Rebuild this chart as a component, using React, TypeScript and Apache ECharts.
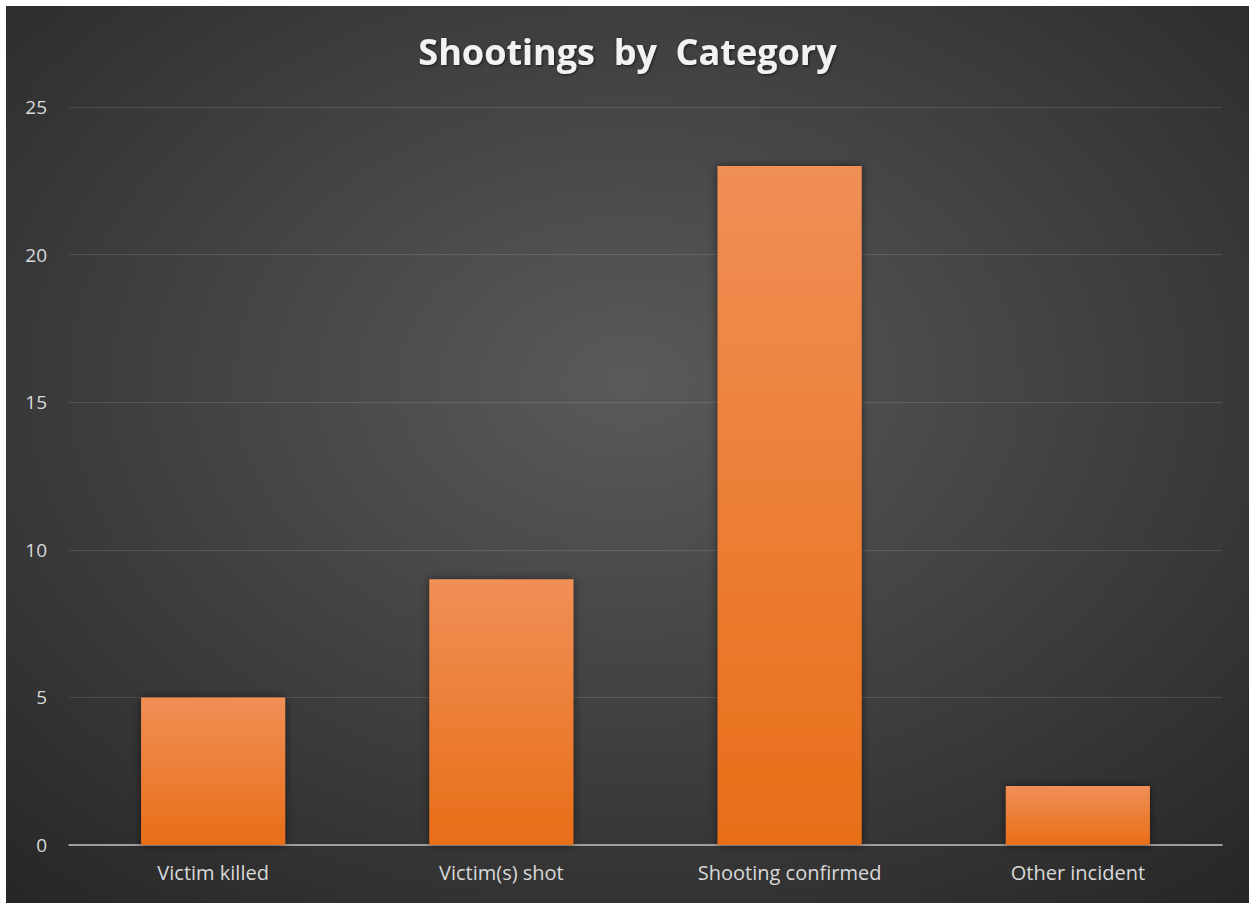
import React, { useEffect, useRef } from "react";
import * as echarts from "echarts";

const categories = ["Victim killed", "Victim(s) shot", "Shooting confirmed", "Other incident"];
const values = [5, 9, 23, 2];
const yTicks = { min: 0, max: 25, interval: 5 };
const titleText = "Shootings  by  Category";

export default function App() {
  const ref = useRef<HTMLDivElement>(null);
  useEffect(() => {
    if (!ref.current) return;
    const chart = echarts.init(ref.current, undefined, { renderer: "svg" });
    chart.setOption({
      animation: false,
      backgroundColor: {
        type: "radial",
        x: 0.5,
        y: 0.42,
        r: 0.78,
        colorStops: [
          { offset: 0, color: "#5a5a5a" },
          { offset: 1, color: "#252525" },
        ],
      },
      title: {
        text: titleText,
        left: "center",
        top: 22,
        textStyle: {
          color: "#f2f2f2",
          fontFamily: "Open Sans",
          fontWeight: "bold",
          fontSize: 36,
          textShadowColor: "rgba(0,0,0,0.6)",
          textShadowBlur: 3,
          textShadowOffsetX: 1,
          textShadowOffsetY: 1,
        },
      },
      grid: { left: 63, right: 27, top: 101, bottom: 58 },
      xAxis: {
        type: "category",
        data: categories,
        axisLine: { lineStyle: { color: "#bfbfbf", width: 1.5 } },
        axisTick: { show: false },
        axisLabel: {
          color: "#d9d9d9",
          fontSize: 20,
          fontFamily: "Open Sans",
          margin: 17,
        },
      },
      yAxis: {
        type: "value",
        min: yTicks.min,
        max: yTicks.max,
        interval: yTicks.interval,
        axisLine: { show: false },
        axisTick: { show: false },
        splitLine: { lineStyle: { color: "rgba(255,255,255,0.12)", width: 1 } },
        axisLabel: {
          color: "#d9d9d9",
          fontSize: 19,
          fontFamily: "Open Sans",
          margin: 22,
        },
      },
      series: [
        {
          type: "bar",
          data: values,
          barWidth: "50%",
          itemStyle: {
            color: {
              type: "linear",
              x: 0,
              y: 0,
              x2: 0,
              y2: 1,
              colorStops: [
                { offset: 0, color: "#f08f56" },
                { offset: 1, color: "#e86e18" },
              ],
            },
            shadowColor: "rgba(0,0,0,0.55)",
            shadowBlur: 8,
          },
        },
      ],
    });
    return () => chart.dispose();
  }, []);
  return (
    <div style={{ position: "absolute", left: 0, top: 0, width: 1249, height: 903, background: "#ffffff" }}>
      <div ref={ref} style={{ position: "absolute", left: 6, top: 6, width: 1243, height: 897 }} />
    </div>
  );
}
